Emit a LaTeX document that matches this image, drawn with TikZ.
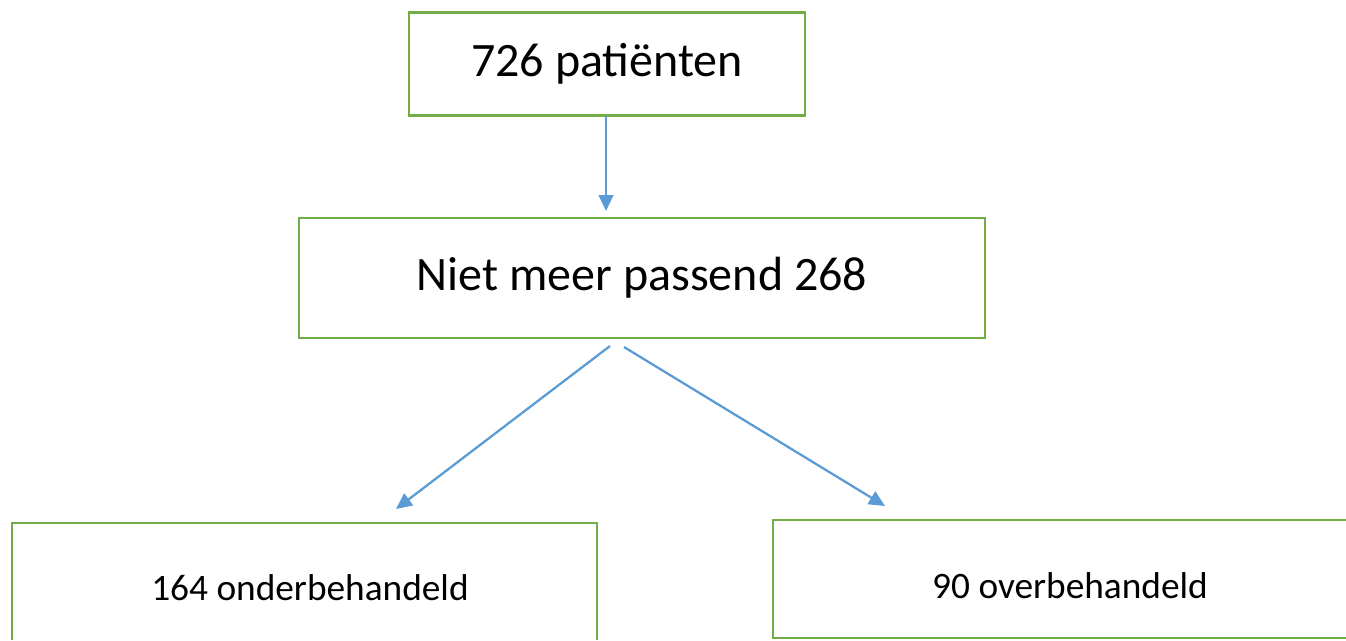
\documentclass[tikz,border=0pt]{standalone}
\usepackage{fontspec}
\setmainfont{Carlito}
\usetikzlibrary{arrows.meta}
\definecolor{boxgreen}{HTML}{70AD47}
\definecolor{arrblue}{HTML}{5B9BD5}
\tikzset{
  box/.style={draw=boxgreen, line width=2pt, inner sep=0pt, align=center, text=black},
  openbox/.style={draw=boxgreen, line width=2pt},
  conn/.style={draw=arrblue, line width=1.7pt, -{Triangle[length=12pt,width=11pt]}}
}
\begin{document}
\begin{tikzpicture}[x=0.75pt,y=-0.75pt]
\useasboundingbox (0,0) rectangle (1346,640);
\node[box, minimum width=297pt, minimum height=77pt, font=\fontsize{36}{43}\selectfont] (top) at (607,64) {\raisebox{-2pt}{726 patiënten}};
\node[box, minimum width=514.5pt, minimum height=90pt, font=\fontsize{36}{43}\selectfont] (mid) at (642,278) {\raisebox{-3pt}{Niet meer passend 268}};
\node[font=\fontsize{28}{34}\selectfont] (left) at (310,588) {164 onderbehandeld};
\draw[openbox] (12,640) -- (12,523) -- (597,523) -- (597,640);
\node[font=\fontsize{28}{34}\selectfont] (right) at (1070,586) {90 overbehandeld};
\draw[openbox] (1346,520) -- (773,520) -- (773,638) -- (1346,638);
\coordinate (a1s) at (606,116);
\coordinate (a1e) at (606,211);
\coordinate (a2s) at (610,346);
\coordinate (a2e) at (396,509);
\coordinate (a3s) at (624,347);
\coordinate (a3e) at (885,506);
\draw[conn] (a1s) -- (a1e);
\draw[conn] (a2s) -- (a2e);
\draw[conn] (a3s) -- (a3e);
\end{tikzpicture}
\end{document}
